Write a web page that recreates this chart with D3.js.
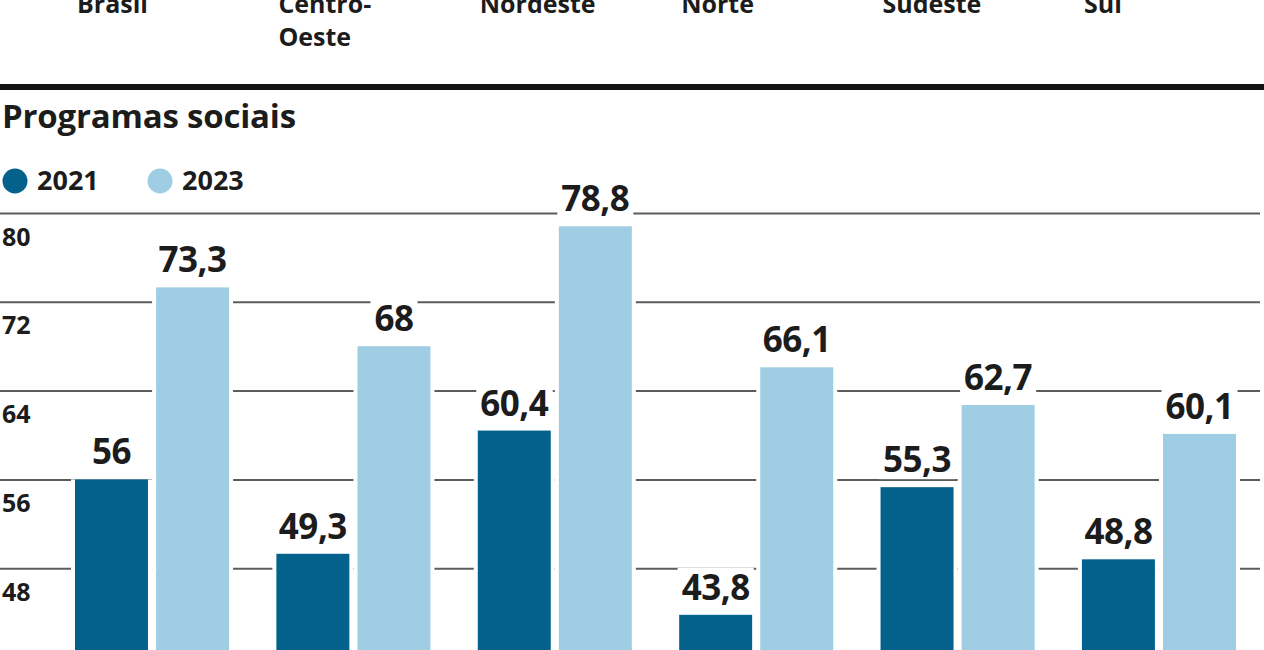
<!DOCTYPE html>
<html>
<head>
<meta charset="utf-8">
<script src="https://cdn.jsdelivr.net/npm/d3@7"></script>
<style>
  html, body { margin: 0; padding: 0; background: #fff; }
  svg { display: block; font-family: "Open Sans", "Noto Sans", sans-serif; }
</style>
</head>
<body>
<svg id="chart" width="1264" height="650"></svg>
<script>
// ---- data ----
const categories = ["Brasil", "Centro-Oeste", "Nordeste", "Norte", "Sudeste", "Sul"];
const categoryLines = [["Brasil"], ["Centro-", "Oeste"], ["Nordeste"], ["Norte"], ["Sudeste"], ["Sul"]];
const seriesNames = ["2021", "2023"];
const values2021 = [56, 49.3, 60.4, 43.8, 55.3, 48.8];
const values2023 = [73.3, 68, 78.8, 66.1, 62.7, 60.1];
const yTicks = [48, 56, 64, 72, 80];
const title = "Programas sociais";
const colors = ["#04618b", "#9fcee4"];

const svg = d3.select("#chart");
const W = 1264;

const locale = d3.formatLocale({decimal: ",", thousands: ".", grouping: [3], currency: ["R$", ""]});
const fmt = locale.format("~g");

const x0 = d3.scaleBand().domain(categories).range([75, 1236]).paddingInner(0.235).paddingOuter(0);
const x1 = d3.scaleBand().domain(seriesNames).range([0, x0.bandwidth()]).paddingInner(0.1);
const y = d3.scaleLinear().domain([40, 80]).range([657, 213]);

const rows = categories.map((c, i) => ({cat: c, vals: [
  {s: seriesNames[0], v: values2021[i], c: colors[0]},
  {s: seriesNames[1], v: values2023[i], c: colors[1]}
]}));

// top category labels (cut off above, as in the source)
const topG = svg.append("g");
categories.forEach((c, i) => {
  const t = topG.append("text")
    .attr("x", x0(c) + 2).attr("y", 13)
    .attr("font-size", 25).attr("font-weight", 700).attr("fill", "#1c1c1c");
  categoryLines[i].forEach((ln, j) => {
    t.append("tspan").attr("x", x0(c) + 2).attr("dy", j === 0 ? 0 : 33).text(ln);
  });
});

// thick separator
svg.append("line").attr("x1", 0).attr("x2", W).attr("y1", 87).attr("y2", 87)
  .attr("stroke", "#141414").attr("stroke-width", 6);

// title
svg.append("text").attr("x", 2).attr("y", 128).attr("font-size", 33).attr("font-weight", 700)
  .attr("fill", "#1c1c1c").attr("letter-spacing", -0.2).text(title);

// legend
const leg = svg.append("g");
const legX = [15, 160];
seriesNames.forEach((s, i) => {
  leg.append("circle").attr("cx", legX[i]).attr("cy", 181).attr("r", 12.5).attr("fill", colors[i]);
  leg.append("text").attr("x", legX[i] + 22).attr("y", 190).attr("font-size", 27)
    .attr("font-weight", 700).attr("fill", "#1c1c1c").text(s);
});

// grid via axis
const axis = d3.axisRight(y).tickValues(yTicks).tickSize(1260).tickFormat(d => d);
const ax = svg.append("g").call(axis);
ax.select(".domain").remove();
ax.selectAll(".tick line").attr("stroke", "#5c5c5c").attr("stroke-width", 2);
ax.selectAll(".tick text").attr("x", 2).attr("dy", 32).attr("text-anchor", "start")
  .attr("font-size", 25).attr("font-weight", 700).attr("fill", "#1c1c1c")
  .attr("font-family", "'Open Sans', sans-serif");

// bars
const groups = svg.append("g").selectAll("g").data(rows).join("g")
  .attr("transform", d => `translate(${x0(d.cat)},0)`);

groups.selectAll("rect.pad").data(d => d.vals).join("rect").attr("class", "pad")
  .attr("x", d => x1(d.s) - 4).attr("width", x1.bandwidth() + 8)
  .attr("y", d => y(d.v)).attr("height", d => y(40) - y(d.v)).attr("fill", "#fff");

groups.selectAll("rect.bar").data(d => d.vals).join("rect").attr("class", "bar")
  .attr("x", d => x1(d.s)).attr("width", x1.bandwidth())
  .attr("y", d => y(d.v)).attr("height", d => y(40) - y(d.v)).attr("fill", d => d.c);

// value labels with white background
const lab = groups.selectAll("g.lab").data(d => d.vals).join("g").attr("class", "lab");
lab.append("rect").attr("fill", "#fff");
lab.append("text")
  .attr("x", d => x1(d.s) + x1.bandwidth() / 2)
  .attr("y", d => y(d.v) - 15)
  .attr("text-anchor", "middle").attr("font-size", 35).attr("font-weight", 700)
  .attr("fill", "#1c1c1c").attr("letter-spacing", -0.5)
  .text(d => fmt(d.v));
lab.each(function() {
  const g = d3.select(this);
  const bb = g.select("text").node().getBBox();
  g.select("rect").attr("x", bb.x - 4).attr("y", bb.y + 5).attr("width", bb.width + 8).attr("height", bb.height - 8);
});
</script>
</body>
</html>
